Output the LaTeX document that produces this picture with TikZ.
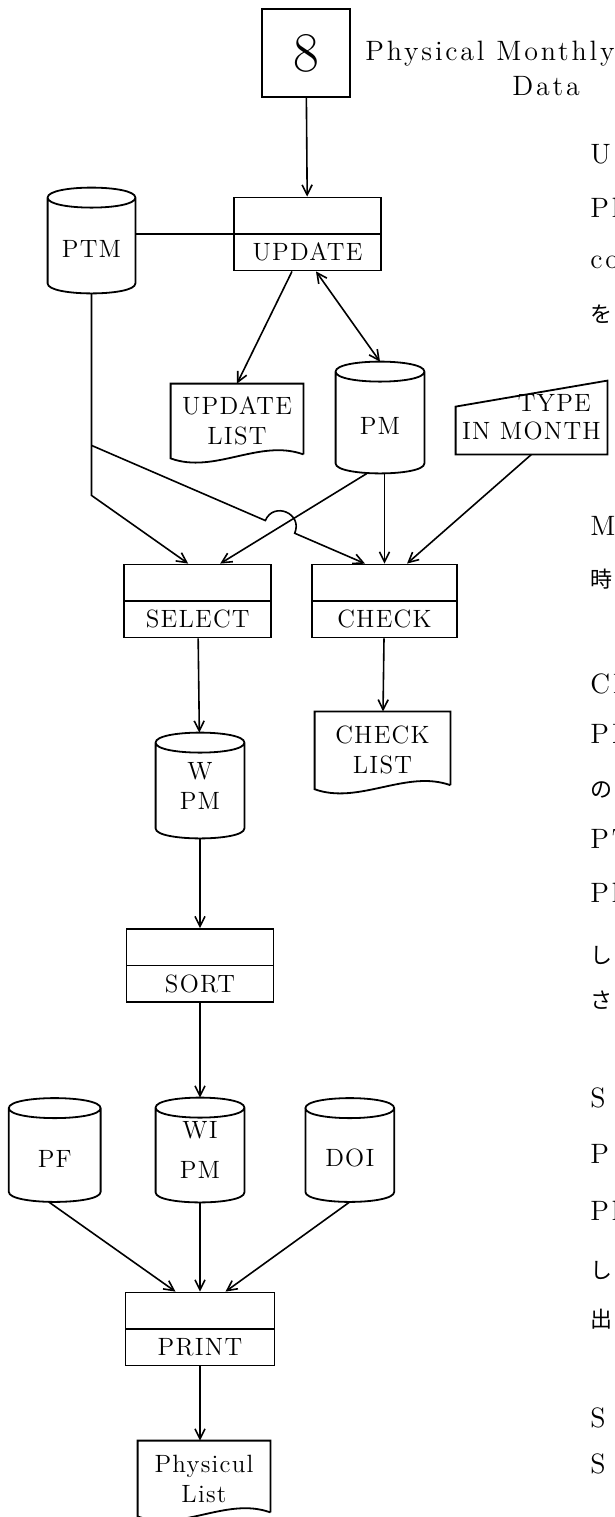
\documentclass[tikz,border=0pt]{standalone}
\usepackage{fontspec}
\newfontfamily\spaced{lmroman12-regular.otf}[LetterSpace=5]
\newfontfamily\widespaced{lmroman12-regular.otf}[LetterSpace=10]
\newfontfamily\jpfont{Noto Sans CJK JP}
\usetikzlibrary{arrows.meta,positioning,calc}

\begin{document}
\begin{tikzpicture}[
proc/.style={draw, line width=0.9pt, minimum width=73.5pt, minimum height=36.5pt, inner sep=2pt, text height=26.5pt, text depth=0pt, font=\spaced\fontsize{12.5}{15}\selectfont, path picture={\draw[line width=0.9pt] (path picture bounding box.west) -- (path picture bounding box.east);}},
cyl/.style={minimum width=44pt, minimum height=52.5pt, inner sep=1pt, align=center, font=\spaced\fontsize{12.5}{15}\selectfont, execute at begin node={\rule{0pt}{17pt}}},
doc/.style={minimum width=66pt, minimum height=37.5pt, inner sep=1pt, align=center, font=\spaced\fontsize{12.5}{15}\selectfont},
manual/.style={minimum width=75.5pt, minimum height=36.5pt, inner sep=1pt, align=right, font=\spaced\fontsize{12.5}{14}\selectfont},
margin/.style={anchor=base west, inner sep=0pt, font=\widespaced\fontsize{14}{16}\selectfont},
outline/.style={line width=0.9pt},
arrow/.style={-{Straight Barb[length=5pt,width=5pt]}, line width=0.8pt},
twoway/.style={{Straight Barb[length=5pt,width=5pt]}-{Straight Barb[length=5pt,width=5pt]}, line width=0.8pt}
]
\useasboundingbox (0,0) rectangle (307.5pt,-758.5pt);

% monthly input card
\node[draw, outline, minimum size=44pt, inner sep=0pt, font=\fontsize{28}{30}\selectfont] (box8) at (153pt,-26.5pt) {8};
\node[margin] (pmtitle) at (182.5pt,-30pt) {Physical Monthly};
\node[margin] (pmdata) at (256pt,-47.5pt) {Data};

\node[proc] (upd) at (153.75pt,-117pt) {UPDATE};
\node[cyl, minimum width=43.5pt] (ptm) at (45.75pt,-120.25pt) {PTM};
\node[doc, minimum height=37pt] (updlist) at (118.5pt,-210.5pt) {UPDATE\\LIST};
\node[cyl, minimum height=55.5pt] (pm) at (190pt,-208.75pt) {PM};
\node[manual] (tim) at (265.75pt,-208.75pt) {TYPE\hspace*{5pt}\\IN MONTH};
\node[proc, minimum width=72.5pt] (chk) at (192.25pt,-300.5pt) {CHECK};
\node[proc, left=19.5pt of chk] (sel) {SELECT};
\node[doc, minimum width=67.5pt, minimum height=38.5pt, below=36.5pt of chk, xshift=-1pt] (chklist) {CHECK\\LIST};
\node[cyl] (wpm) at (100pt,-392.75pt) {W\\PM};
\node[proc] (sort) at (100pt,-482.75pt) {SORT};
\node[cyl, minimum height=52pt] (wipm) at (100pt,-575pt) {WI\\[5pt]PM};
\node[cyl, minimum width=45.5pt, minimum height=51.5pt, left=27.5pt of wipm] (pf) {PF};
\node[cyl, minimum height=51.5pt, right=30.5pt of wipm] (doi) {DOI};
\node[proc, minimum width=74.5pt] (print) at (100pt,-664.5pt) {PRINT};
\node[doc] (phylist) at (102pt,-739.25pt) {Physicul\\List};

% cylinder, document and manual input outlines
\foreach \c in {ptm,pm,wpm,wipm,pf,doi}
  \draw[outline] ([yshift=-5pt]\c.north west) -- ([yshift=5pt]\c.south west)
    .. controls ([yshift=-1.67pt]\c.south west) and ([yshift=-1.67pt]\c.south east) .. ([yshift=5pt]\c.south east)
    -- ([yshift=-5pt]\c.north east)
    .. controls ([yshift=1.67pt]\c.north east) and ([yshift=1.67pt]\c.north west) .. ([yshift=-5pt]\c.north west)
    .. controls ([yshift=-11.67pt]\c.north west) and ([yshift=-11.67pt]\c.north east) .. ([yshift=-5pt]\c.north east);
\foreach \d in {updlist,chklist,phylist}
  \draw[outline] ([yshift=2pt]\d.south east) -- (\d.north east) -- (\d.north west) -- (\d.south west) .. controls +(22pt,-8pt) and +(-22pt,8pt) .. ([yshift=2pt]\d.south east);
\draw[outline] (tim.south west) -- ([yshift=-13pt]tim.north west) -- (tim.north east) -- (tim.south east) -- cycle;

% connectors
\coordinate (ptmA) at ([yshift=-76pt]ptm.south);
\coordinate (ptmB) at ([yshift=-101pt]ptm.south);
\coordinate (selA) at ([xshift=-4.75pt]sel.north);
\coordinate (selB) at ([xshift=11.25pt]sel.north);
\coordinate (chkA) at ([xshift=-9.75pt]chk.north);
\coordinate (chkB) at ([xshift=11.25pt]chk.north);
\coordinate (pmA) at ([xshift=-6.5pt]pm.south);
\coordinate (cross) at (intersection of ptmA--chkA and pmA--selB);
\coordinate (hopA) at ($(cross)!8pt!(ptmA)$);
\coordinate (hopB) at ($(cross)!8pt!(chkA)$);

\draw[arrow] (box8) -- (upd);
\draw[outline] (upd.west) -- (upd.west -| ptm.east);
\draw[arrow] ([xshift=-7.75pt]upd.south) -- (updlist.north);
\draw[twoway] ([xshift=4.25pt]upd.south) -- (pm.north);
\draw[arrow] (ptm.south) -- (ptmB) -- (selA);
\draw[arrow] (ptmA) -- (hopA) .. controls ($(hopA)!0.667!90:(hopB)$) and ($(hopB)!0.667!-90:(hopA)$) .. (hopB) -- (chkA);
\draw[arrow] (pmA) -- (selB);
\draw[arrow] (chk.north |- pm.south) -- (chk.north);
\draw[arrow] (tim.south) -- (chkB);
\draw[arrow] (chk) -- (chklist);
\draw[arrow] (sel) -- (wpm);
\draw[arrow] (wpm) -- (sort);
\draw[arrow] (sort) -- (wipm);
\draw[arrow] ([xshift=-3pt]pf.south) -- ([xshift=-12.25pt]print.north);
\draw[arrow] (wipm) -- (print);
\draw[arrow] (doi.south) -- ([xshift=12.75pt]print.north);
\draw[arrow] (print) -- (print |- phylist.north);

% text of the facing page, cut at the edge
\foreach \y/\t [count=\i] in {81.5/U, 108.5/Ph, 134/co, 161/{\jpfont\fontsize{11}{12}\selectfont を}, 267.5/Mo, 293.5/{\jpfont\fontsize{11}{12}\selectfont 時}, 346.5/CH, 371.5/PM, 398.5/{\jpfont\fontsize{11}{12}\selectfont の}, 424/PT, 451/Ph, 481.5/{\jpfont\fontsize{11}{12}\selectfont し}, 504/{\jpfont\fontsize{11}{12}\selectfont さ}, 553.5/S E, 581.5/P T, 610/Ph, 639/{\jpfont\fontsize{11}{12}\selectfont し}, 663.5/{\jpfont\fontsize{11}{12}\selectfont 出}, 713.5/S O, 736.5/S O}
  \node[margin] (side\i) at (295pt,{-\y*1pt}) {\t};
\end{tikzpicture}
\end{document}
